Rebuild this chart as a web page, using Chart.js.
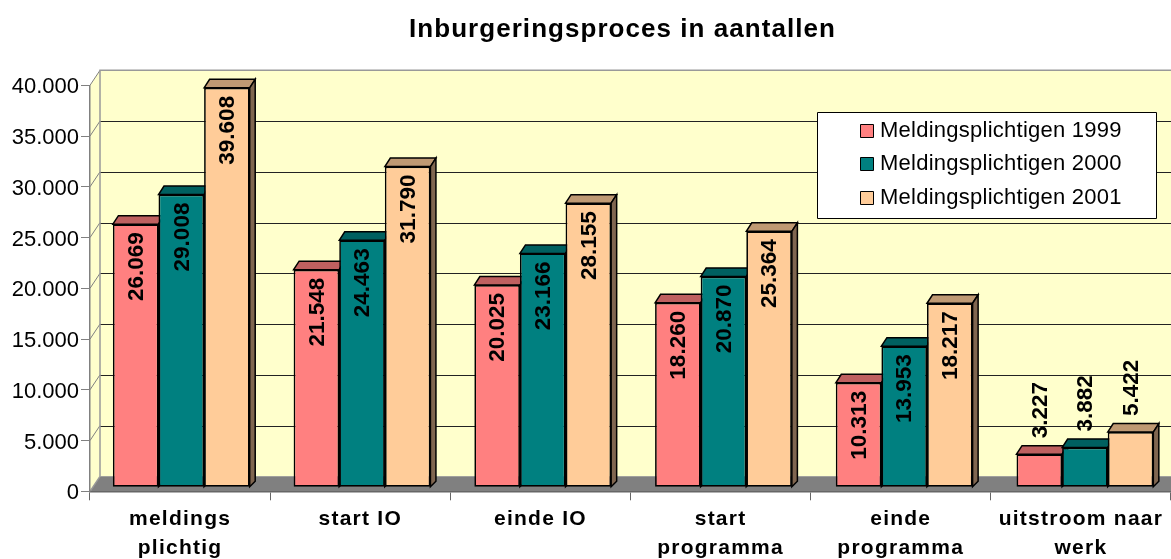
<!DOCTYPE html>
<html><head><meta charset="utf-8">
<style>html,body{margin:0;padding:0;background:#fff;overflow:hidden}canvas{display:block}</style>
<script src="https://cdn.jsdelivr.net/npm/chart.js@4"></script>
</head><body><canvas id="c" width="1171" height="559"></canvas>
<script>
const categories = [["meldings","plichtig"],"start IO","einde IO",["start","programma"],["einde","programma"],["uitstroom naar","werk"]];
const seriesNames = ["Meldingsplichtigen 1999","Meldingsplichtigen 2000","Meldingsplichtigen 2001"];
const values1999 = [26069,21548,20025,18260,10313,3227];
const values2000 = [29008,24463,23166,20870,13953,3882];
const values2001 = [39608,31790,28155,25364,18217,5422];
const frontColors = ["#FF8080","#008080","#FFCC99"];
const topColors = ["#BF6060","#006060","#BF9973"];
const sideColors = ["#804040","#004040","#806650"];

const fmt = v => String(v).replace(/\B(?=(\d{3})+$)/g,".");
const FONT = '"Liberation Sans", Arial, sans-serif';
const WALL = {dx:10, dy:-15};
const BAR = {dx:0.65, sx:1.0031, dy:-4.6, depthX:5.5, topY:-8.5, botY:-5.5};

function poly(ctx, pts, fill, stroke, lw){
  ctx.beginPath();
  pts.forEach((p,i)=> i ? ctx.lineTo(p[0],p[1]) : ctx.moveTo(p[0],p[1]));
  ctx.closePath();
  if(fill){ctx.fillStyle=fill;ctx.fill();}
  if(stroke){ctx.strokeStyle=stroke;ctx.lineWidth=lw||1;ctx.stroke();}
}
function spaced(chart,obj,method,spacing,tx,ty){
  if(obj['_w'+method]) return;
  const orig=obj[method];
  obj['_w'+method]=true;
  obj[method]=function(...a){
    const ctx=chart.ctx;
    ctx.save();
    ctx.letterSpacing=spacing;
    ctx.translate(tx||0,ty||0);
    orig.apply(this,a);
    ctx.restore();
  };
}

const walls = {
  id:'walls',
  beforeDraw(chart){
    const {ctx,chartArea:a,scales:{y}}=chart;
    spaced(chart,chart.titleBlock,'draw','1.05px',37,1);
    spaced(chart,chart.scales.x,'drawLabels','1.25px',0,0);
    spaced(chart,chart.scales.y,'drawLabels','0px',0,2);
    const bx=a.left+WALL.dx, rx=a.right+WALL.dx+10;
    const by=a.bottom+WALL.dy, ty=a.top+WALL.dy;
    ctx.save();
    poly(ctx,[[bx,ty],[rx,ty],[rx,by],[bx,by]],'#FFFFCC');
    poly(ctx,[[a.left,a.top],[bx,ty],[bx,by],[a.left,a.bottom]],'#FFFFCC');
    poly(ctx,[[a.left,a.bottom],[bx,by],[rx,by],[rx,a.bottom]],'#808080');
    y.ticks.forEach((t,i)=>{
      const py=y.getPixelForTick(i);
      if(t.value===0) return;
      ctx.lineWidth=1;
      ctx.strokeStyle='#808080';
      ctx.beginPath();ctx.moveTo(a.left,py);ctx.lineTo(bx,py+WALL.dy);ctx.stroke();
      if(t.value===y.max) return;
      ctx.strokeStyle='#222';
      ctx.beginPath();ctx.moveTo(bx,Math.round(py+WALL.dy)+.5);ctx.lineTo(rx,Math.round(py+WALL.dy)+.5);ctx.stroke();
    });
    ctx.strokeStyle='#999';ctx.lineWidth=1.5;
    ctx.beginPath();ctx.moveTo(bx,by);ctx.lineTo(bx,ty);ctx.lineTo(rx,ty);ctx.stroke();
    ctx.beginPath();ctx.moveTo(a.left,a.bottom);ctx.lineTo(bx,by);ctx.stroke();
    ctx.restore();
  },
  beforeDatasetsDraw(chart){
    const ctx=chart.ctx;
    ctx.save();
    ctx.translate(BAR.dx,BAR.dy);
    ctx.scale(BAR.sx,1);
    chart.data.datasets.forEach((ds,i)=>{
      chart.getDatasetMeta(i).data.forEach(b=>{
        const l=b.x-b.width/2,r=b.x+b.width/2,t=b.y,bo=b.base;
        poly(ctx,[[l,t],[l+BAR.depthX,t+BAR.topY],[r+BAR.depthX,t+BAR.topY],[r,t]],topColors[i],'#000',1.5);
        poly(ctx,[[r,t],[r+BAR.depthX,t+BAR.topY],[r+BAR.depthX,bo+BAR.botY],[r,bo]],sideColors[i],'#000',1.5);
      });
    });
  },
  afterDatasetsDraw(chart){
    const ctx=chart.ctx;
    ctx.font='bold 22.5px '+FONT;
    ctx.fillStyle='#000';
    ctx.textBaseline='middle';
    chart.data.datasets.forEach((ds,i)=>{
      chart.getDatasetMeta(i).data.forEach((b,j)=>{
        const v=ds.data[j], s=fmt(v);
        const outside=v<6000;
        ctx.save();
        ctx.translate(b.x,outside?b.y-16:b.y+8);
        ctx.rotate(-Math.PI/2);
        ctx.textAlign=outside?'left':'right';
        ctx.fillText(s,0,1);
        ctx.restore();
      });
    });
    ctx.restore();
  },
  afterDraw(chart){
    const ctx=chart.ctx;
    ctx.save();
    poly(ctx,[[817.5,112.5],[1156.5,112.5],[1156.5,218.5],[817.5,218.5]],'#fff','#000',1);
    const rows=[130,163,197];
    ctx.font='22px '+FONT;
    ctx.letterSpacing='0.25px';
    ctx.textBaseline='middle';
    ctx.textAlign='left';
    seriesNames.forEach((n,i)=>{
      poly(ctx,[[860.5,rows[i]-5.5],[873.5,rows[i]-5.5],[873.5,rows[i]+7.5],[860.5,rows[i]+7.5]],frontColors[i],'#000',1);
      ctx.fillStyle='#000';
      ctx.fillText(n,880,rows[i]+1);
    });
    ctx.restore();
  }
};

new Chart(document.getElementById('c'),{
  type:'bar',
  data:{labels:categories,datasets:[values1999,values2000,values2001].map((d,i)=>({
    label:seriesNames[i],data:d,yAxisID:'yBars',
    backgroundColor:frontColors[i],borderColor:'#000',borderWidth:1.7,borderSkipped:false,
    barPercentage:1,categoryPercentage:0.757,clip:false
  }))},
  plugins:[walls],
  options:{
    responsive:false,animation:false,
    layout:{padding:0},
    plugins:{
      legend:{display:false},
      tooltip:{enabled:false},
      title:{display:true,text:"Inburgeringsproces in aantallen",color:'#000',
        font:{family:FONT,size:26,weight:'bold',lineHeight:1.2},
        padding:{top:13.4,bottom:40.7}}
    },
    scales:{
      x:{
        grid:{drawOnChartArea:false,tickLength:9,color:'#666',lineWidth:1},
        border:{color:'#666',width:1.5},
        ticks:{color:'#000',font:{family:FONT,size:21,weight:'bold',lineHeight:1.38},padding:4,maxRotation:0,autoSkip:false},
        afterFit(s){s.height=67.7;}
      },
      y:{
        min:0,max:40000,
        grid:{drawOnChartArea:false,tickLength:9,color:'#808080'},
        border:{color:'#808080',width:1.5},
        ticks:{stepSize:5000,color:'#000',font:{family:FONT,size:22},padding:2,callback:v=>fmt(v)},
        afterFit(s){s.width=90;}
      },
      yBars:{display:false,min:0,max:40318}
    }
  }
});
</script></body></html>
